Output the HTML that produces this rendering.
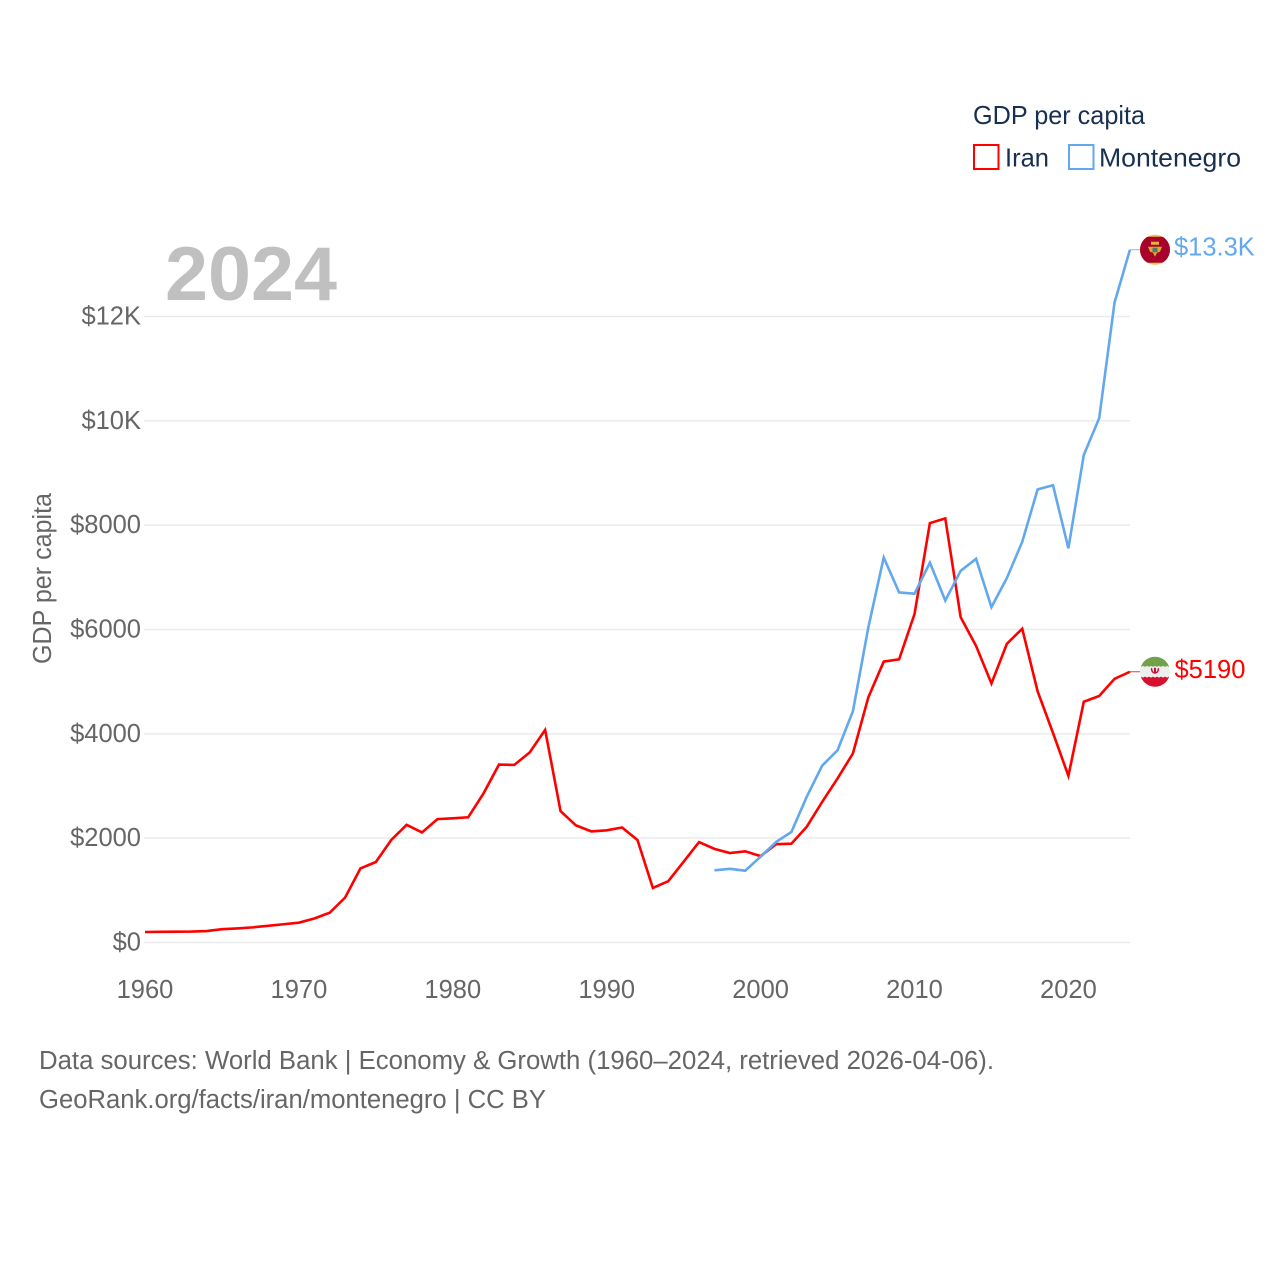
<!DOCTYPE html>
<html lang="en">
<head>
<meta charset="utf-8">
<title>GDP per capita: Iran and Montenegro</title>
<style>
html,body{margin:0;padding:0;background:#fff;width:1280px;height:1280px;overflow:hidden}
svg{display:block;font-family:"Liberation Sans",sans-serif}
</style>
</head>
<body>
<svg id="chart" xmlns="http://www.w3.org/2000/svg" width="1280" height="1280" viewBox="0 0 1280 1280">
  <rect width="1280" height="1280" fill="#ffffff"/>
  <defs>
    <clipPath id="flag-clip"><circle cx="0" cy="0" r="15"/></clipPath>
  </defs>
  <g id="grid"></g>
  <g id="y-ticks"></g>
  <g id="x-ticks"></g>
  <text x="165" y="300" font-size="76" font-weight="700" fill="#c0c0c0" textLength="172" lengthAdjust="spacingAndGlyphs">2024</text>
  <text transform="translate(51,578.5) rotate(-90)" text-anchor="middle" font-size="25.5" fill="#666666" textLength="171" lengthAdjust="spacingAndGlyphs">GDP per capita</text>
  <g id="series"></g>

  <g>
    <text x="973" y="124" font-size="26" fill="#18304f" textLength="172" lengthAdjust="spacingAndGlyphs">GDP per capita</text>
    <rect x="974" y="145" width="24.5" height="24" fill="#ffffff" stroke="#ff0000" stroke-width="2"/>
    <text x="1005" y="166.500" font-size="26" fill="#18304f" textLength="44" lengthAdjust="spacingAndGlyphs">Iran</text>
    <rect x="1069" y="145" width="24.5" height="24" fill="#ffffff" stroke="#62a8ee" stroke-width="2"/>
    <text x="1099" y="166.500" font-size="26" fill="#18304f" textLength="142" lengthAdjust="spacingAndGlyphs">Montenegro</text>
  </g>

  <g id="flag-montenegro">
    <g clip-path="url(#flag-clip)">
      <rect x="-16" y="-16" width="32" height="32" fill="#f2c63f"/>
      <rect x="-16" y="-13" width="32" height="26" fill="#a8012c"/>
      <path d="M-4-8h8v3h-8z" fill="#e3b23a"/>
      <path d="M-7-3h14l-2 5-3 1-2 4-2-4-3-1z" fill="#dba92f"/>
      <rect x="-2.500" y="-2" width="5" height="4.500" fill="#4f7f6a"/>
    </g>
  </g>

  <g id="flag-iran">
    <g clip-path="url(#flag-clip)">
      <rect x="-16" y="-16" width="32" height="11" fill="#6fa24a"/>
      <rect x="-16" y="-5" width="32" height="10" fill="#eeeeee"/>
      <rect x="-16" y="5" width="32" height="11" fill="#d8102f"/>
      <path d="M-16-6l2 1.500 2-1.500 2 1.500 2-1.500 2 1.500 2-1.500 2 1.500 2-1.500 2 1.500 2-1.500 2 1.500 2-1.500 2 1.500 2-1.500 2 1.500 2-1.500v2h-32z" fill="#eeeeee"/>
      <path d="M-16 6l2-1.500 2 1.500 2-1.500 2 1.500 2-1.500 2 1.500 2-1.500 2 1.500 2-1.500 2 1.500 2-1.500 2 1.500 2-1.500 2 1.500 2-1.500 2 1.500v-2h-32z" fill="#eeeeee"/>
      <path d="M-4-4c-.5 3.500 1 5.500 4 6 3-.5 4.500-2.500 4-6l-1.500 1c.2 2-.6 2.800-1.500 3.200v-4.200h-2v4.200c-.9-.4-1.700-1.200-1.500-3.200z" fill="#c8102e"/>
    </g>
  </g>

  <g id="value-labels"></g>

  <g>
    <text x="39" y="1069" font-size="25.5" fill="#666666" textLength="955" lengthAdjust="spacingAndGlyphs">Data sources: World Bank | Economy &amp; Growth (1960–2024, retrieved 2026-04-06).</text>
    <text x="39" y="1108" font-size="25.5" fill="#666666" textLength="507" lengthAdjust="spacingAndGlyphs">GeoRank.org/facts/iran/montenegro | CC BY</text>
  </g>
</svg>

<script>
const yTickValues = [0, 2000, 4000, 6000, 8000, 10000, 12000];
const yTickLabels = ["$0", "$2000", "$4000", "$6000", "$8000", "$10K", "$12K"];
const xTickYears = [1960, 1970, 1980, 1990, 2000, 2010, 2020];

const iranStartYear = 1960;
const iranValues = [
  201, 204, 208, 210, 220, 255, 270, 290, 320, 350,
  380, 460, 570, 860, 1420, 1543, 1965, 2255, 2110, 2365,
  2380, 2400, 2860, 3410, 3405, 3645, 4075, 2520, 2245, 2130,
  2150, 2205, 1965, 1045, 1175, 1550, 1925, 1795, 1715, 1748,
  1655, 1885, 1894, 2220, 2695, 3145, 3625, 4700, 5385, 5428,
  6295, 8040, 8130, 6235, 5685, 4965, 5725, 6015, 4815, 4016,
  3195, 4615, 4725, 5055, 5190
];

const montenegroStartYear = 1997;
const montenegroValues = [
  1384, 1412, 1376, 1645, 1925, 2118, 2795, 3390, 3685, 4435,
  6040, 7380, 6712, 6686, 7281, 6555, 7125, 7355, 6428, 6985,
  7680, 8685, 8765, 7556, 9345, 10050, 12270, 13280
];

const iranColor = "#ff0000";
const montenegroColor = "#62a8ee";

function xScale(year) { return 145 + (year - 1960) * 15.39; }
function yScale(value) { return 942.5 - value * 0.0521667; }
function formatValue(value) {
  return value >= 10000 ? "$" + (value / 1000).toFixed(1) + "K" : "$" + Math.round(value);
}

const SVG_NS = "http://www.w3.org/2000/svg";
function make(tag, parent, attrs) {
  const el = document.createElementNS(SVG_NS, tag);
  for (const k in attrs) el.setAttribute(k, attrs[k]);
  parent.appendChild(el);
  return el;
}

const gridGroup = document.getElementById("grid");
const yGroup = document.getElementById("y-ticks");
yTickValues.forEach(function (v, i) {
  const line = make("line", gridGroup, { x1: 144, x2: 1130, y1: yScale(v), y2: yScale(v), stroke: "#ebebeb", "stroke-width": 1.5 });
  
  
  const label = make("text", yGroup, { x: 141, y: yScale(v) + 8, "text-anchor": "end", "font-size": 25.5, fill: "#666666" });
  
  
  label.textContent = yTickLabels[i];
});

const xGroup = document.getElementById("x-ticks");
xTickYears.forEach(function (year) {
  const label = make("text", xGroup, { x: xScale(year), y: 998, "text-anchor": "middle", "font-size": 25.5, fill: "#666666" });
  
  
  label.textContent = String(year);
});

const seriesGroup = document.getElementById("series");
function linePoints(values, startYear) {
  return values.map(function (v, i) {
    return xScale(startYear + i).toFixed(2) + "," + yScale(v).toFixed(2);
  }).join(" ");
}

const iranLine = make("polyline", seriesGroup, { points: linePoints(iranValues, iranStartYear), fill: "none", stroke: iranColor, "stroke-width": 2.6, "stroke-linejoin": "miter" });



const montenegroLine = make("polyline", seriesGroup, { points: linePoints(montenegroValues, montenegroStartYear), fill: "none", stroke: montenegroColor, "stroke-width": 2.6, "stroke-linejoin": "miter" });



const iranLast = iranValues[iranValues.length - 1];
const montenegroLast = montenegroValues[montenegroValues.length - 1];
const lastYear = iranStartYear + iranValues.length - 1;

const iranConnector = make("line", seriesGroup, { x1: xScale(lastYear), x2: 1140, y1: yScale(iranLast), y2: yScale(iranLast), stroke: iranColor, "stroke-width": 1, opacity: 0.8 });



const montenegroConnector = make("line", seriesGroup, { x1: xScale(lastYear), x2: 1140, y1: yScale(montenegroLast), y2: yScale(montenegroLast), stroke: montenegroColor, "stroke-width": 1, opacity: 0.8 });



document.getElementById("flag-iran").setAttribute("transform", "translate(1155," + yScale(iranLast) + ")");
document.getElementById("flag-montenegro").setAttribute("transform", "translate(1155," + yScale(montenegroLast) + ")");

const labelGroup = document.getElementById("value-labels");
const iranLabel = make("text", labelGroup, { x: 1174.500, y: yScale(iranLast) + 6, "font-size": 25.5, fill: iranColor });


iranLabel.textContent = formatValue(iranLast);

const montenegroLabel = make("text", labelGroup, { x: 1174, y: yScale(montenegroLast) + 6, "font-size": 25.5, fill: montenegroColor });


montenegroLabel.textContent = formatValue(montenegroLast);
</script>
</body>
</html>
